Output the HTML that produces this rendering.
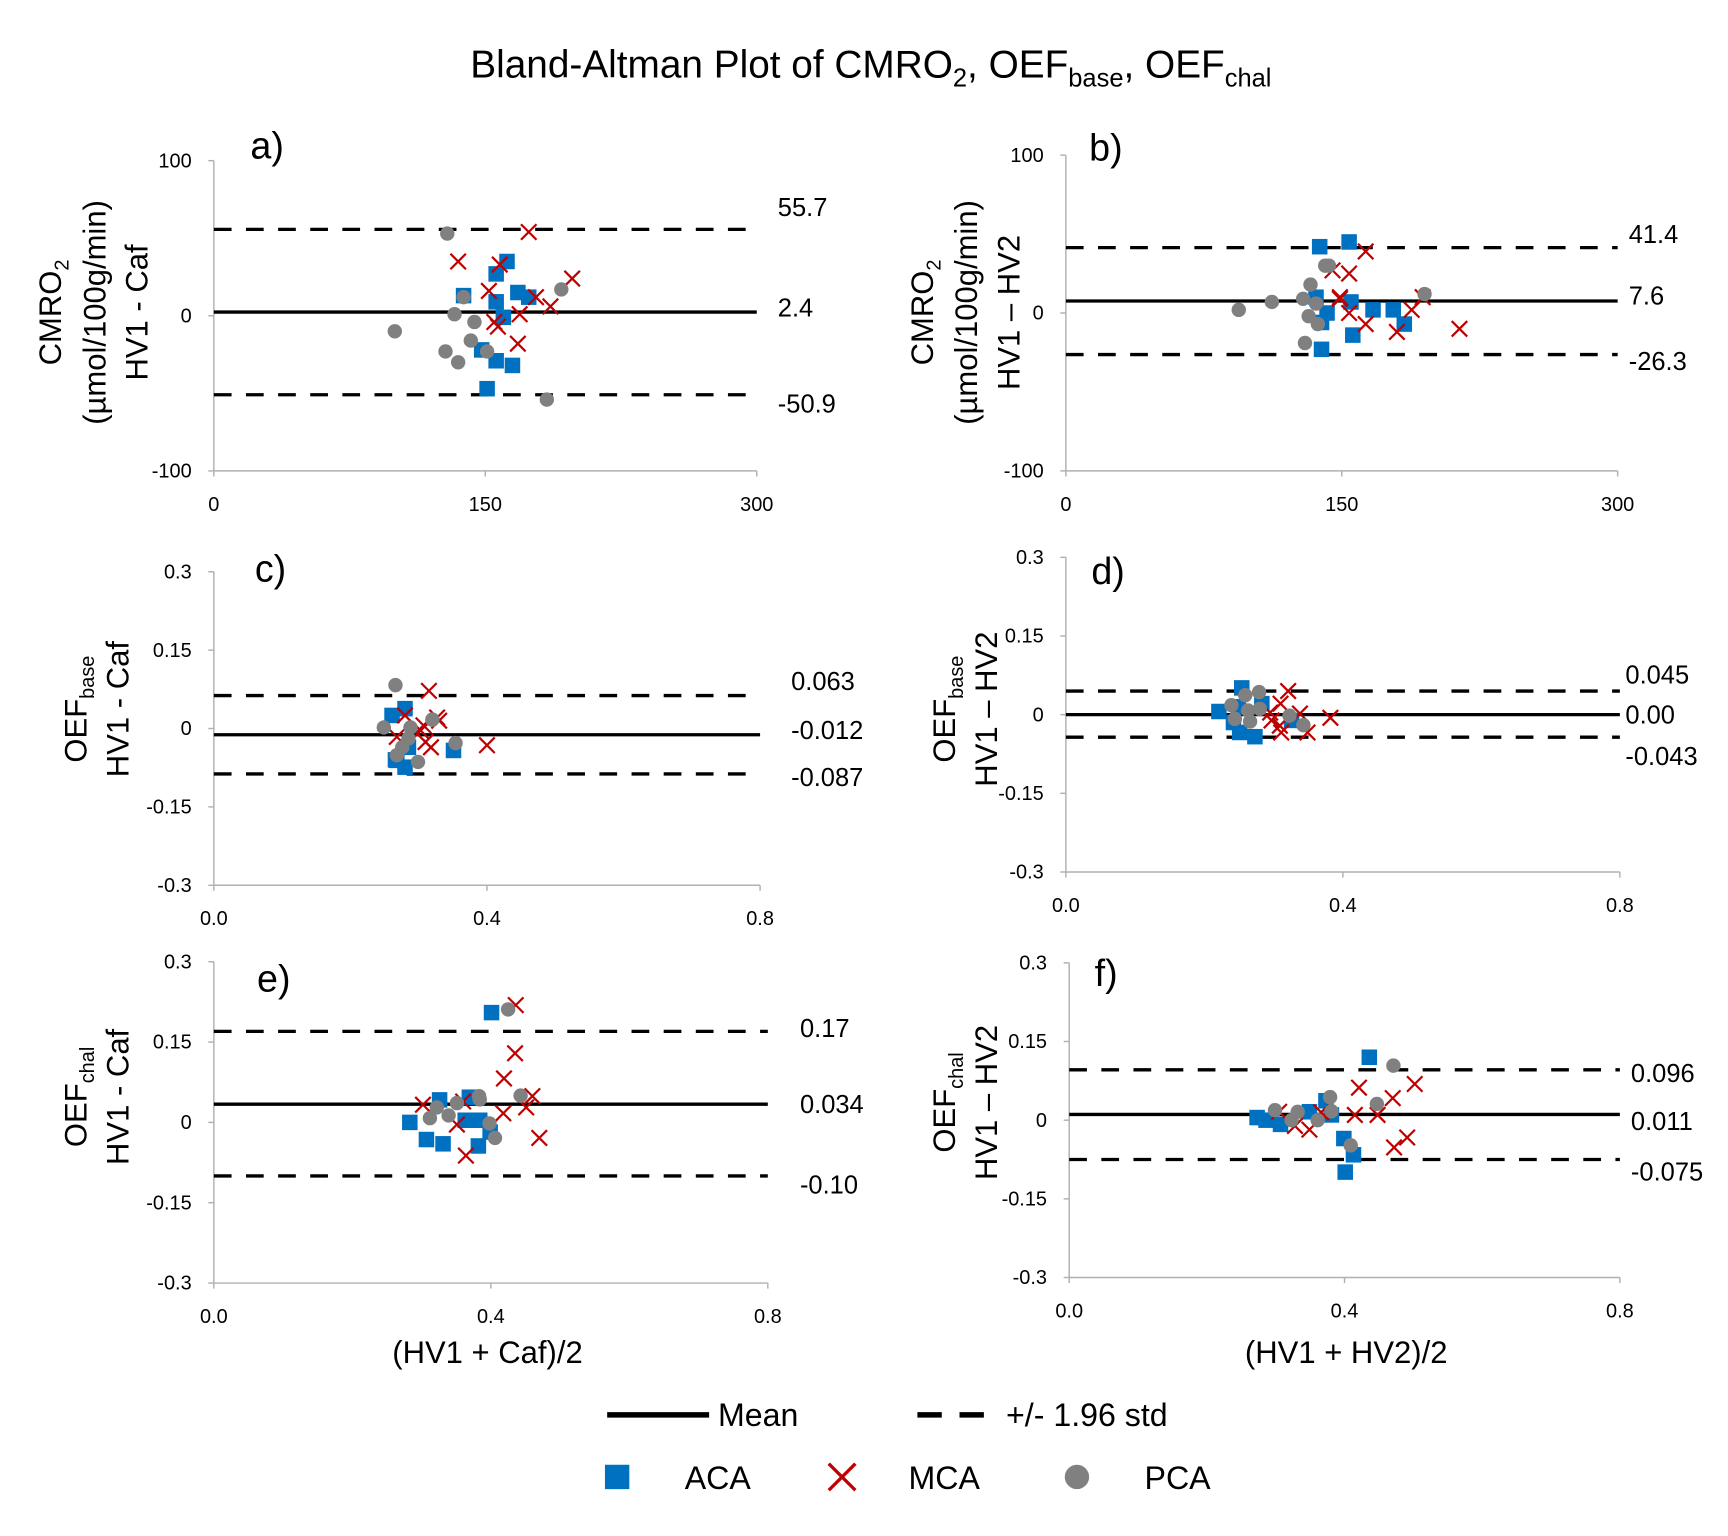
<!DOCTYPE html>
<html><head><meta charset="utf-8"><style>
html,body{margin:0;padding:0;background:#fff;}
svg{display:block;font-family:"Liberation Sans",sans-serif;}
</style></head><body>
<svg id="chart" width="1728" height="1536" viewBox="0 0 1559.6 1386.3" preserveAspectRatio="none" xmlns="http://www.w3.org/2000/svg">
<text x="786" y="70" font-size="35" text-anchor="middle">Bland-Altman Plot of CMRO<tspan font-size="23" dy="8">2</tspan><tspan dy="-8">, OEF</tspan><tspan font-size="23" dy="8">base</tspan><tspan dy="-8">, OEF</tspan><tspan font-size="23" dy="8">chal</tspan></text>
<g id="panels"></g>
<g>
<line x1="548" y1="1277" x2="640" y2="1277" stroke="#000" stroke-width="5"/>
<text x="648" y="1287" font-size="29">Mean</text>
<line x1="828" y1="1277" x2="902" y2="1277" stroke="#000" stroke-width="5" stroke-dasharray="22,16"/>
<text x="908" y="1287" font-size="29">+/- 1.96 std</text>
<rect x="546" y="1322" width="22" height="22" fill="#0070c0"/>
<text x="618" y="1344" font-size="29">ACA</text>
<path d="M748 1321 L772 1345 M772 1321 L748 1345" stroke="#c00000" stroke-width="3"/>
<text x="820" y="1344" font-size="29">MCA</text>
<circle cx="972" cy="1333" r="11" fill="#808080"/>
<text x="1033" y="1344" font-size="29">PCA</text>
</g>
</svg>
<script>
// ---- data ----
const aAcaX=[138,156,162,156,160,148,156,165,151,168,174];
const aAcaY=[13,27,35,9,-1,-22,-29,-32,-47,15,12];
const aMcaX=[174,135,158,152,155,157,169,178,186,198,168];
const aMcaY=[54,35,33,16,-4,-7,1,12,6,24,-18];
const aPcaX=[129,100,138,133,144,142,128,135,151,184,192];
const aPcaY=[53,-10,12,1,-4,-16,-23,-30,-23,-54,17];
const bAcaX=[138,154,136,139,142,139,155,156,167,178,184];
const bAcaY=[42,45,10,-6,0,-23,7,-14,2,2,-7];
const bMcaX=[163,145,154,149,149,154,163,180,188,214,194];
const bMcaY=[39,27,25,9,10,0,-7,-12,2,-10,10];
const bPcaX=[94,112,133,141,143,129,132,136,137,130,195];
const bPcaY=[2,7,18,30,30,9,-2,6,-7,-19,12];
const cAcaX=[0.261,0.28,0.268,0.28,0.351,0.285,0.266];
const cAcaY=[0.025,0.038,-0.061,-0.074,-0.042,-0.036,-0.06];
const cMcaX=[0.315,0.28,0.327,0.33,0.307,0.303,0.31,0.318,0.4,0.268];
const cMcaY=[0.072,0.025,0.021,0.015,0.006,-0.004,-0.026,-0.036,-0.032,-0.016];
const cPcaX=[0.266,0.249,0.288,0.32,0.354,0.276,0.268,0.299,0.285];
const cPcaY=[0.083,0.002,0.002,0.017,-0.028,-0.036,-0.051,-0.064,-0.019];
const dAcaX=[0.221,0.254,0.249,0.242,0.251,0.273,0.283,0.326];
const dAcaY=[0.006,0.051,0.015,-0.015,-0.034,-0.042,0.021,-0.011];
const dMcaX=[0.321,0.31,0.295,0.297,0.309,0.311,0.338,0.349,0.382];
const dMcaY=[0.045,0.021,0.004,-0.011,-0.021,-0.034,0.002,-0.034,-0.006];
const dPcaX=[0.239,0.259,0.279,0.244,0.263,0.266,0.28,0.323,0.343];
const dPcaY=[0.018,0.037,0.043,-0.008,0.008,-0.013,0.011,-0.002,-0.02];
const eAcaX=[0.401,0.326,0.369,0.283,0.307,0.331,0.363,0.384,0.399,0.382];
const eAcaY=[0.205,0.042,0.047,0,-0.032,-0.04,0.004,0.004,-0.018,-0.044];
const eMcaX=[0.436,0.435,0.419,0.302,0.36,0.418,0.451,0.46,0.351,0.47,0.364];
const eMcaY=[0.219,0.129,0.082,0.033,0.039,0.017,0.028,0.049,-0.004,-0.029,-0.062];
const ePcaX=[0.425,0.383,0.384,0.351,0.322,0.312,0.339,0.398,0.406,0.443];
const ePcaY=[0.211,0.049,0.043,0.036,0.028,0.008,0.013,-0.002,-0.029,0.05];
const fAcaX=[0.436,0.273,0.286,0.307,0.349,0.373,0.381,0.399,0.413,0.401];
const fAcaY=[0.12,0.005,0,-0.008,0.016,0.037,0.01,-0.035,-0.066,-0.099];
const fMcaX=[0.305,0.328,0.349,0.366,0.415,0.421,0.448,0.47,0.502,0.472,0.491];
const fMcaY=[0.016,-0.011,-0.018,0.015,0.01,0.062,0.01,0.042,0.069,-0.052,-0.033];
const fPcaX=[0.299,0.332,0.323,0.361,0.379,0.381,0.409,0.447,0.471];
const fPcaY=[0.019,0.016,0,0,0.044,0.017,-0.048,0.031,0.104];
const meanVals=[2.4,7.6,-0.012,0.00,0.034,0.011];
const upperVals=[55.7,41.4,0.063,0.045,0.17,0.096];
const lowerVals=[-50.9,-26.3,-0.087,-0.043,-0.10,-0.075];
const meanLabels=["2.4","7.6","-0.012","0.00","0.034","0.011"];
const upperLabels=["55.7","41.4","0.063","0.045","0.17","0.096"];
const lowerLabels=["-50.9","-26.3","-0.087","-0.043","-0.10","-0.075"];
const cmroYTicks=[100,0,-100];
const cmroXTicks=[0,150,300];
const cmroXTickLabels=["0","150","300"];
const oefYTicks=[0.3,0.15,0,-0.15,-0.3];
const oefYTickLabels=["0.3","0.15","0","-0.15","-0.3"];
const oefXTicks=[0,0.4,0.8];
const oefXTickLabels=["0.0","0.4","0.8"];

const NS="http://www.w3.org/2000/svg";
const root=document.getElementById('panels');
function mk(tag,attrs,parent){const e=document.createElementNS(NS,tag);for(const k in attrs)e.setAttribute(k,attrs[k]);(parent||root).appendChild(e);return e;}

// label vertical offsets (layout only) [upper, mean, lower]
const panels=[
 {id:'a',x0:193,x1:683,yt:145,yb:425,xmax:300,ymax:100,yT:cmroYTicks,yTL:cmroYTicks.map(String),xT:cmroXTicks,xTL:cmroXTickLabels,lx:702,off:[-20,-4,8],lab:[226,143],
  ylab:[['CMRO','2',45],['(µmol/100g/min)','',85],['HV1 - Caf','',123]],ly:282,d:[aAcaX,aAcaY,aMcaX,aMcaY,aPcaX,aPcaY]},
 {id:'b',x0:962,x1:1460,yt:140,yb:425,xmax:300,ymax:100,yT:cmroYTicks,yTL:cmroYTicks.map(String),xT:cmroXTicks,xTL:cmroXTickLabels,lx:1470,off:[-12,-5,6],lab:[983,145],
  ylab:[['CMRO','2',832],['(µmol/100g/min)','',872],['HV1 – HV2','',910]],ly:282,d:[bAcaX,bAcaY,bMcaX,bMcaY,bPcaX,bPcaY]},
 {id:'c',x0:193,x1:686,yt:516,yb:799,xmax:0.8,ymax:0.3,yT:oefYTicks,yTL:oefYTickLabels,xT:oefXTicks,xTL:oefXTickLabels,lx:714,off:[-13,-4,3],lab:[230,525],
  ylab:[['OEF','base',68],['HV1 - Caf','',106]],ly:640,d:[cAcaX,cAcaY,cMcaX,cMcaY,cPcaX,cPcaY]},
 {id:'d',x0:962,x1:1462,yt:503,yb:787,xmax:0.8,ymax:0.3,yT:oefYTicks,yTL:oefYTickLabels,xT:oefXTicks,xTL:oefXTickLabels,lx:1467,off:[-15,0,17],lab:[985,527],
  ylab:[['OEF','base',852],['HV1 – HV2','',890]],ly:640,d:[dAcaX,dAcaY,dMcaX,dMcaY,dPcaX,dPcaY]},
 {id:'e',x0:193,x1:693,yt:868,yb:1158,xmax:0.8,ymax:0.3,yT:oefYTicks,yTL:oefYTickLabels,xT:oefXTicks,xTL:oefXTickLabels,lx:722,off:[-3,0,8],lab:[232,895],
  ylab:[['OEF','chal',68],['HV1 - Caf','',106]],ly:990,d:[eAcaX,eAcaY,eMcaX,eMcaY,ePcaX,ePcaY]},
 {id:'f',x0:965,x1:1462,yt:869,yb:1153,xmax:0.8,ymax:0.3,yT:oefYTicks,yTL:oefYTickLabels,xT:oefXTicks,xTL:oefXTickLabels,lx:1472,off:[3,6,11],lab:[988,890],
  ylab:[['OEF','chal',852],['HV1 – HV2','',890]],ly:995,d:[fAcaX,fAcaY,fMcaX,fMcaY,fPcaX,fPcaY]}
];

panels.forEach((p,i)=>{
 const g=mk('g',{});
 
 
 const sx=v=>p.x0+(v/p.xmax)*(p.x1-p.x0);
 const sy=v=>(p.yt+p.yb)/2-(v/p.ymax)*(p.yb-p.yt)/2;
 const yax=mk('line',{x1:p.x0,y1:p.yt,x2:p.x0,y2:p.yb,stroke:'#b0b0b0','stroke-width':1.3},g);
 
 
 const xax=mk('line',{x1:p.x0,y1:p.yb,x2:p.x1,y2:p.yb,stroke:'#b0b0b0','stroke-width':1.3},g);
 
 
 p.yT.forEach((t,k)=>{
  mk('line',{x1:p.x0-5,y1:sy(t),x2:p.x0,y2:sy(t),stroke:'#b0b0b0','stroke-width':1.3},g);
  const tx=mk('text',{x:p.x0-20,y:sy(t)+6,'font-size':18,'text-anchor':'end'},g);
  tx.textContent=p.yTL[k];
  
  
 });
 p.xT.forEach((t,k)=>{
  mk('line',{x1:sx(t),y1:p.yb,x2:sx(t),y2:p.yb+5,stroke:'#b0b0b0','stroke-width':1.3},g);
  const tx=mk('text',{x:sx(t),y:p.yb+36,'font-size':18,'text-anchor':'middle'},g);
  tx.textContent=p.xTL[k];
  
  
 });
 const ml=mk('line',{x1:p.x0,y1:sy(meanVals[i]),x2:p.x1,y2:sy(meanVals[i]),stroke:'#000','stroke-width':3},g);
 
 
 [upperVals[i],lowerVals[i]].forEach(v=>{
  const dl=mk('line',{x1:p.x0,y1:sy(v),x2:p.x1,y2:sy(v),stroke:'#000','stroke-width':3,'stroke-dasharray':'16,13'},g);
  
  
 });
 const labs=[[upperLabels[i],sy(upperVals[i])+p.off[0]],[meanLabels[i],sy(meanVals[i])+p.off[1]],[lowerLabels[i],sy(lowerVals[i])+p.off[2]]];
 labs.forEach(l=>{
  const t=mk('text',{x:p.lx,y:l[1]+8,'font-size':23},g);
  t.textContent=l[0];
  
  
 });
 const pl=mk('text',{x:p.lab[0],y:p.lab[1],'font-size':34},g);
 pl.textContent=p.id+')';
 
 
 p.ylab.forEach(yl=>{
  const t=mk('text',{x:0,y:0,'font-size':28,'text-anchor':'middle',transform:`translate(${yl[2]+10},${p.ly}) rotate(-90)`},g);
  
  
  const a=mk('tspan',{},t);a.textContent=yl[0];
  if(yl[1]){const b=mk('tspan',{'font-size':18,dy:7},t);b.textContent=yl[1];}
 });
 const [ax,ay,mx,my,px,py]=p.d;
 ax.forEach((v,k)=>{
  const r=mk('rect',{x:sx(v)-7,y:sy(ay[k])-7,width:14,height:14,fill:'#0070c0'},g);
  
  
 });
 mx.forEach((v,k)=>{
  const X=sx(v),Y=sy(my[k]);
  const m=mk('path',{d:`M${X-7} ${Y-7}L${X+7} ${Y+7}M${X+7} ${Y-7}L${X-7} ${Y+7}`,stroke:'#c00000','stroke-width':2},g);
  
  
 });
 px.forEach((v,k)=>{
  const c=mk('circle',{cx:sx(v),cy:sy(py[k]),r:6.5,fill:'#808080'},g);
  
  
 });
});
[['(HV1 + Caf)/2',440],['(HV1 + HV2)/2',1215]].forEach(a=>{
 const t=mk('text',{x:a[1],y:1230,'font-size':28,'text-anchor':'middle'});
 t.textContent=a[0];
 
 
});
</script>
</body></html>
